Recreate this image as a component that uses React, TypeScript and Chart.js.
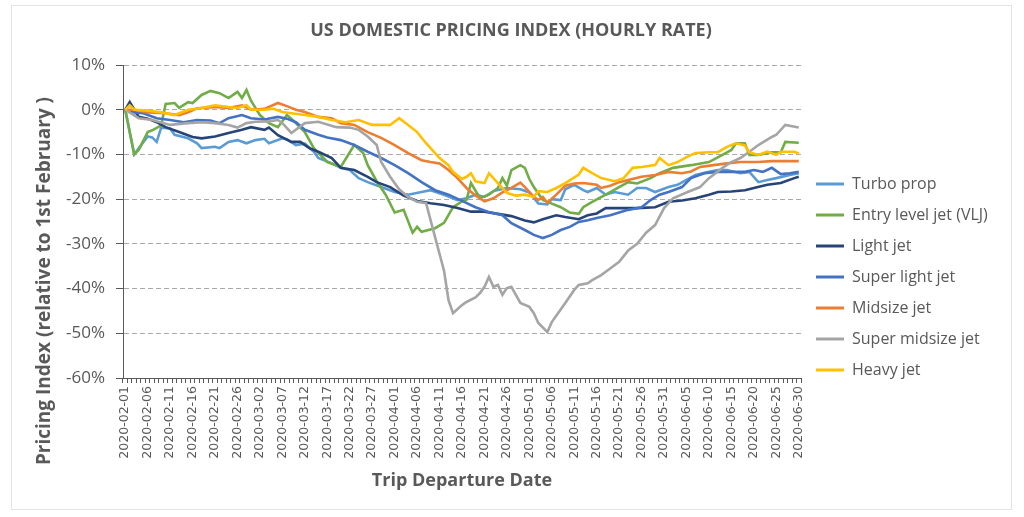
import React, { useEffect, useRef } from 'react';
import { Chart, registerables } from 'chart.js';

Chart.register(...registerables);

// ---------- categories ----------
const MONTHS = ['02', '03', '04', '05', '06'];
const MONTH_DAYS = [29, 31, 30, 31, 30];
const dateLabels: string[] = [];
MONTHS.forEach((m, i) => {
  for (let d = 1; d <= MONTH_DAYS[i]; d++) dateLabels.push(`2020-${m}-${String(d).padStart(2, '0')}`);
});

const CHART_TITLE = 'US DOMESTIC PRICING INDEX (HOURLY RATE)';
const X_TITLE = 'Trip Departure Date';
const Y_TITLE = 'Pricing Index (relative to 1st February )';

const Y_MIN = -60;
const Y_MAX = 10;
const Y_STEP = 10;

const seriesNames = [
  'Turbo prop',
  'Entry level jet (VLJ)',
  'Light jet',
  'Super light jet',
  'Midsize jet',
  'Super midsize jet',
  'Heavy jet',
];
const seriesColors = ['#5B9BD5', '#70AD47', '#264478', '#4472C4', '#ED7D31', '#A5A5A5', '#FFC000'];

// ---------- values: [day index from 2020-02-01, % change] ----------
const turboProp: [number, number][] = [
  [0, 0], [2, -10], [3, -8.6], [5, -6], [6, -6.2], [7, -7.2], [8, -4], [10, -4.2], [11, -5.6], [14, -6.4],
  [16, -7.5], [17, -8.6], [20, -8.3], [21, -8.6], [23, -7.2], [25, -6.8], [27, -7.5], [29, -6.8], [31, -6.5],
  [32, -7.5], [35, -6.4], [36, -6.6], [38, -7.9], [40, -7.6], [42, -9.4], [43, -10.8], [46, -12], [48, -13],
  [50, -13.5], [52, -15.3], [54, -16.2], [57, -17.3], [60, -18.4], [63, -19], [66, -18.4], [68, -18], [71, -19],
  [74, -20.2], [76, -19.8], [78, -19], [80, -19.5], [82, -18.2], [85, -17.5], [88, -17.8], [90, -18.5], [92, -21],
  [94, -21.2], [95, -20], [97, -20.2], [98, -17.8], [100, -16.8], [102, -18], [103, -18.4], [105, -17.5], [107, -19],
  [109, -18.4], [112, -19], [114, -17.5], [116, -17.5], [118, -18.4], [121, -17.3], [123, -16.8], [125, -15.7],
  [127, -14.6], [130, -13.9], [132, -13.5], [134, -13.5], [137, -14.2], [139, -13.9], [141, -16.2], [143, -15.7],
  [145, -15.3], [148, -14.6], [150, -14.2],
];
const entryLevelJet: [number, number][] = [
  [0, 0], [2, -10], [3, -9], [5, -5], [6, -4.6], [8, -3.5], [9, 1.3], [11, 1.5], [12, 0.4], [14, 1.7], [15, 1.5],
  [17, 3.3], [19, 4.2], [21, 3.7], [23, 2.6], [25, 4], [26, 2.6], [27, 4.4], [28, 2], [29, 0.4], [30, -1.2],
  [32, -3], [34, -3.9], [36, -1.2], [37, -2], [40, -5], [42, -8.6], [45, -11.7], [48, -12.8], [51, -7.9],
  [53, -9.7], [54, -12.4], [56, -16], [58, -19], [60, -23], [62, -22.4], [64, -27.5], [65, -26.2], [66, -27.3],
  [69, -26.5], [71, -25.3], [73, -21.8], [75, -20.5], [76, -20.2], [77, -16.4], [79, -19.8], [81, -19], [83, -17.5],
  [84, -15.3], [85, -17], [86, -13.5], [88, -12.4], [89, -13], [90, -15.5], [91, -17.3], [93, -20.2], [95, -21],
  [97, -21.8], [99, -23], [101, -23.3], [102, -21.8], [104, -20.6], [107, -19], [110, -17.3], [112, -16.2],
  [114, -16.5], [117, -15.3], [119, -14.2], [122, -13], [126, -12.4], [130, -11.7], [133, -10.1], [135, -9],
  [136, -7.5], [138, -7.5], [139, -10.1], [141, -10.1], [144, -9.5], [146, -9.5], [147, -7.2], [150, -7.4],
];
const lightJet: [number, number][] = [
  [0, 0], [1, 1.7], [2, 0], [3, -1.6], [5, -2], [7, -2.8], [9, -3.9], [12, -5], [15, -6.1], [17, -6.4], [20, -6],
  [23, -5.2], [26, -4.5], [28, -3.9], [31, -4.5], [32, -4], [34, -5.7], [37, -7.2], [39, -7.2], [41, -8.6],
  [43, -9.4], [46, -10.8], [48, -13], [51, -13.5], [54, -15], [56, -16.2], [59, -17.3], [62, -19.2], [65, -20.4],
  [68, -20.9], [71, -21.3], [74, -22], [77, -22.8], [80, -22.8], [83, -23.3], [86, -23.8], [89, -24.8], [91, -25.2],
  [93, -24.5], [96, -23.6], [98, -24], [101, -24.5], [103, -23.6], [105, -23.2], [107, -22], [110, -22], [114, -22],
  [118, -21.8], [121, -20.6], [124, -20.3], [127, -19.8], [130, -19], [132, -18.4], [135, -18.3], [138, -18],
  [140, -17.5], [143, -16.8], [146, -16.4], [149, -15.3], [150, -15],
];
const superLightJet: [number, number][] = [
  [0, 0], [2, -0.6], [4, -0.8], [7, -1.9], [10, -2.3], [13, -2.8], [16, -2.3], [19, -2.4], [21, -3], [23, -1.9],
  [26, -1.2], [28, -1.9], [31, -2.2], [34, -1.6], [36, -2], [38, -2.8], [40, -4.5], [43, -5.6], [45, -6.2],
  [48, -6.8], [51, -7.9], [54, -9.4], [57, -10.8], [60, -12.4], [63, -14.2], [66, -16.2], [69, -18], [72, -19],
  [75, -20.4], [78, -21.8], [81, -22.9], [84, -23.6], [86, -25.4], [89, -26.9], [91, -28], [93, -28.7], [95, -28],
  [97, -26.9], [99, -26.2], [101, -25.1], [103, -24.7], [105, -24.2], [108, -23.6], [112, -22.4], [115, -21.8],
  [117, -20.2], [119, -19], [121, -18.4], [124, -17.3], [126, -15.3], [129, -14.2], [132, -13.9], [135, -13.9],
  [138, -13.9], [140, -13.5], [142, -13.9], [144, -13], [146, -14.4], [148, -14.2], [150, -13.9],
];
const midsizeJet: [number, number][] = [
  [0, 0], [2, 0], [5, -0.6], [9, -0.8], [12, -1.2], [14, -0.6], [16, 0.3], [20, 0.6], [23, 0.4], [26, 1], [28, 0],
  [31, 0.2], [34, 1.5], [36, 0.8], [38, 0], [40, -0.5], [43, -1.6], [46, -1.9], [48, -3], [51, -3.4], [54, -5],
  [57, -6.3], [60, -7.9], [63, -9.7], [66, -11.3], [68, -11.7], [70, -12], [72, -13.5], [74, -15.3], [76, -17.5],
  [78, -19.2], [80, -20.5], [82, -19.8], [84, -18.5], [86, -17.5], [88, -16.3], [89, -17.3], [91, -19.5],
  [92, -20.2], [93, -19.5], [94, -20.8], [96, -19], [98, -17], [100, -16.5], [102, -16.4], [105, -16.8],
  [106, -17.5], [108, -17], [110, -16.2], [112, -15.7], [115, -15], [118, -14.6], [121, -13.9], [124, -14.2],
  [126, -13.8], [128, -12.8], [131, -12.4], [134, -12], [137, -11.7], [141, -11.7], [144, -11.5], [147, -11.5],
  [150, -11.5],
];
const superMidsizeJet: [number, number][] = [
  [0, 0], [3, -1.9], [6, -2.3], [10, -3.4], [14, -3], [17, -2.8], [20, -3], [23, -3.4], [25, -4], [27, -3],
  [29, -2.7], [32, -2.6], [34, -2.3], [35, -3], [37, -5.2], [40, -3], [43, -2.7], [47, -3.9], [50, -4], [52, -4.5],
  [54, -6], [56, -7.9], [57, -11.7], [59, -15], [61, -17.8], [63, -19.5], [65, -20.6], [67, -20.9], [69, -28.5],
  [71, -36], [72, -42.6], [73, -45.5], [75, -43.7], [76, -43], [78, -42], [79, -41], [80, -39.6], [81, -37.4],
  [82, -39.6], [83, -39.2], [84, -41.4], [85, -39.9], [86, -39.6], [88, -43.2], [90, -44.1], [91, -45.5],
  [92, -47.7], [94, -49.7], [95, -47.5], [98, -43.2], [100, -40.3], [101, -39.2], [103, -38.8], [104, -38.1],
  [106, -37], [108, -35.5], [110, -34], [112, -31.5], [114, -30], [116, -27.5], [118, -25.8], [120, -22],
  [122, -19.8], [125, -18.5], [128, -17.3], [130, -15.3], [133, -13], [135, -11.7], [137, -10.8], [139, -9.4],
  [141, -7.9], [144, -6.1], [145, -5.6], [147, -3.4], [150, -4],
];
const heavyJet: [number, number][] = [
  [0, 0], [1, 1], [2, 0], [5, -0.2], [8, -0.6], [11, -1.2], [14, 0], [17, 0.4], [20, 1], [23, 0.6], [25, 0.4],
  [27, 1], [28, 0], [31, 0], [33, 0.2], [35, -0.5], [37, -0.8], [40, -1.2], [43, -1.6], [46, -2.3], [49, -2.8],
  [52, -2.3], [55, -3.4], [59, -3.4], [61, -1.9], [63, -3.4], [65, -5], [67, -7.5], [69, -9.7], [70, -10.8],
  [72, -12.4], [73, -13.9], [75, -15.5], [76, -15], [77, -14.2], [78, -16], [80, -16.4], [81, -14.2], [83, -16.4],
  [85, -18.6], [87, -19.2], [89, -19], [91, -19.5], [92, -18.2], [94, -18.4], [96, -17.5], [98, -16.4],
  [101, -14.5], [102, -13], [104, -14.2], [106, -15.3], [109, -16], [111, -15.3], [113, -13], [115, -12.8],
  [118, -12.4], [119, -10.8], [121, -12.4], [123, -11.7], [125, -10.6], [127, -9.7], [130, -9.5], [132, -9.5],
  [134, -8.3], [136, -7.5], [138, -8], [139, -9.5], [141, -10.1], [143, -9.4], [145, -10.1], [146, -9.4],
  [149, -9.4], [150, -9.8],
];

const seriesValues = [turboProp, entryLevelJet, lightJet, superLightJet, midsizeJet, superMidsizeJet, heavyJet];

const TEXT_COLOR = '#595959';

const yTitlePlugin = {
  id: 'yTitleCustom',
  afterDraw(chart: any) {
    const ctx = chart.ctx;
    ctx.save();
    ctx.translate(45, 281);
    ctx.rotate(-Math.PI / 2);
    ctx.font = "bold 19px 'Open Sans'";
    ctx.fillStyle = TEXT_COLOR;
    ctx.textAlign = 'center';
    ctx.textBaseline = 'middle';
    ctx.fillText(Y_TITLE, 0, 0);
    ctx.restore();
  },
};

export default function App() {
  const canvasRef = useRef<HTMLCanvasElement | null>(null);

  useEffect(() => {
    if (!canvasRef.current) return;
    const n = seriesNames.length;
    const datasets = seriesNames.map((name, i) => ({
      label: name,
      data: seriesValues[i].map(([d, v]) => ({ x: dateLabels[d], y: v })),
      borderColor: seriesColors[i],
      backgroundColor: seriesColors[i],
      borderWidth: 2.6,
      pointRadius: 0,
      tension: 0,
      order: n - 1 - i,
    }));

    const chart = new Chart(canvasRef.current, {
      type: 'line',
      data: { labels: dateLabels, datasets },
      plugins: [yTitlePlugin],
      options: {
        responsive: false,
        animation: false,
        layout: { padding: { left: 31, right: 33, top: 20, bottom: 25 } },
        plugins: {
          tooltip: { enabled: false },
          title: {
            display: true,
            text: CHART_TITLE,
            color: TEXT_COLOR,
            font: { family: "'Open Sans'", size: 18, weight: 'bold', lineHeight: 1.2 },
            padding: { top: 0, bottom: 23.4 },
          },
          legend: {
            position: 'right',
            align: 'start',
            maxWidth: 190,
            title: { display: true, text: ' ', font: { size: 10, lineHeight: 1 }, padding: { top: 131, bottom: 0 } },
            labels: {
              boxWidth: 28,
              boxHeight: 3,
              padding: 15,
              color: TEXT_COLOR,
              font: { family: "'Open Sans'", size: 16 },
              sort: (a: any, b: any) => a.datasetIndex - b.datasetIndex,
              generateLabels: (c: any) =>
                (Chart.defaults.plugins.legend.labels as any)
                  .generateLabels(c)
                  .map((l: any) => ({ ...l, lineWidth: 0, fillStyle: l.strokeStyle })),
            },
          },
        },
        scales: {
          x: {
            type: 'category',
            offset: true,
            afterFit: (scale: any) => {
              scale.height = 114;
            },
            grid: {
              display: true,
              offset: true,
              drawOnChartArea: false,
              drawTicks: true,
              tickLength: 5,
              color: TEXT_COLOR,
            },
            border: { display: true, color: TEXT_COLOR, width: 1 },
            ticks: {
              autoSkip: false,
              minRotation: 90,
              maxRotation: 90,
              padding: 3,
              color: TEXT_COLOR,
              font: { family: "'DejaVu Sans'", size: 12.5 },
              callback: (value: any, index: number) => (index % 5 === 0 ? dateLabels[index] : ''),
            },
            title: {
              display: true,
              text: X_TITLE,
              color: TEXT_COLOR,
              font: { family: "'Open Sans'", size: 18, weight: 'bold', lineHeight: 1.2 },
              padding: { top: 0, bottom: 0 },
            },
          },
          y: {
            min: Y_MIN,
            max: Y_MAX,
            afterFit: (scale: any) => {
              scale.width = 92;
            },
            grid: {
              color: '#aaaaaa',
              lineWidth: 1,
              drawTicks: true,
              tickLength: 7,
              tickColor: TEXT_COLOR,
            },
            border: { display: true, color: TEXT_COLOR, width: 1, dash: [5, 3] },
            ticks: {
              stepSize: Y_STEP,
              padding: 11,
              color: TEXT_COLOR,
              font: { family: "'Open Sans'", size: 17 },
              callback: (v: any) => `${v}%`,
            },
          },
        },
      } as any,
    });
    return () => chart.destroy();
  }, []);

  return (
    <div style={{ position: 'absolute', left: 0, top: 0, width: 1024, height: 517, background: '#fff' }}>
      <div
        style={{
          position: 'absolute',
          left: 11,
          top: 5,
          width: 1001,
          height: 505,
          border: '1px solid #e4e4e4',
          boxSizing: 'border-box',
        }}
      />
      <canvas
        ref={canvasRef}
        width={1024}
        height={517}
        style={{ position: 'absolute', left: 0, top: 0, width: 1024, height: 517 }}
      />
    </div>
  );
}
